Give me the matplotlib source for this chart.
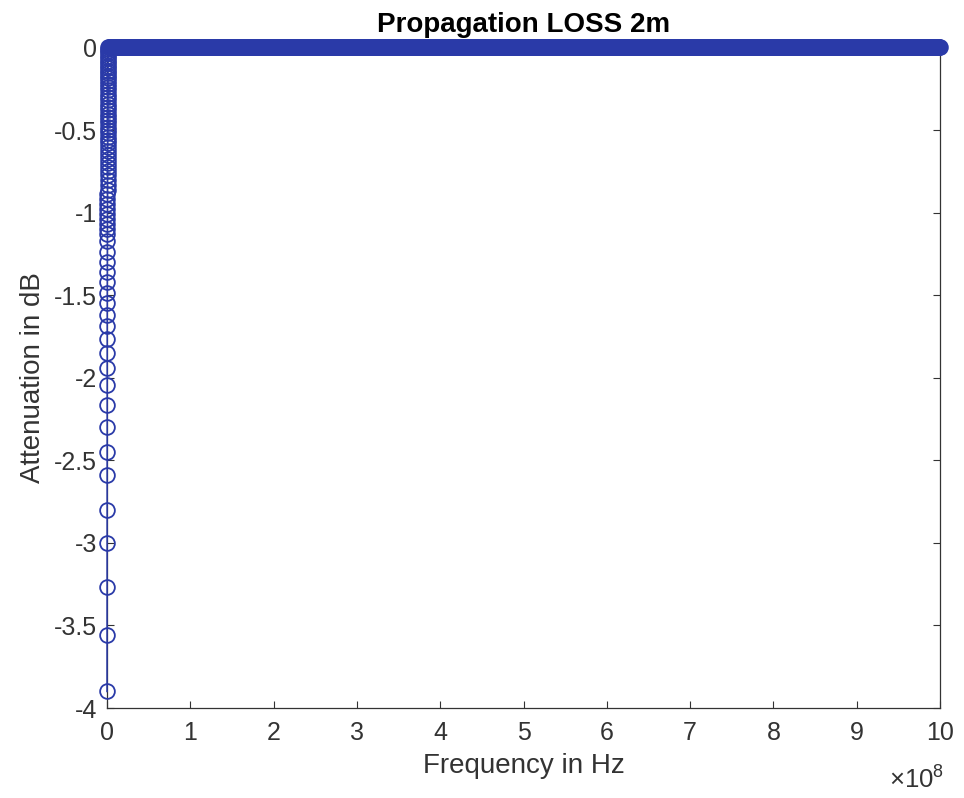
import numpy as np
import matplotlib
matplotlib.use('Agg')
import matplotlib.pyplot as plt
from matplotlib.ticker import FuncFormatter, MultipleLocator

plt.rcParams['font.family'] = ['Liberation Sans', 'DejaVu Sans']
plt.rcParams['axes.unicode_minus'] = False
plt.rcParams['mathtext.fontset'] = 'custom'
plt.rcParams['mathtext.rm'] = 'Liberation Sans'

# ─── Data ───
# low-frequency roll-off (the vertical column of markers at f ~ 0)
att_low_db = [-3.90, -3.56, -3.27, -3.00, -2.80, -2.59, -2.45, -2.30, -2.165, -2.045,
              -1.94, -1.85, -1.765, -1.687, -1.62, -1.548, -1.487, -1.42, -1.36, -1.30,
              -1.24, -1.17, -1.13, -1.10, -1.07, -1.04, -1.01, -0.98, -0.95, -0.92,
              -0.89, -0.86, -0.83, -0.80, -0.775, -0.75, -0.725, -0.70, -0.675, -0.65,
              -0.625, -0.60, -0.58, -0.56, -0.54, -0.52, -0.50, -0.48, -0.46, -0.44,
              -0.42, -0.40, -0.38, -0.36, -0.34, -0.32, -0.30, -0.28, -0.26, -0.24,
              -0.22, -0.20, -0.185, -0.17, -0.155, -0.14, -0.125, -0.11, -0.095, -0.08,
              -0.065, -0.05, -0.035, -0.02, -0.01]
low_step_hz = 2e4
# rest of the sweep sits flat at 0 dB
flat_level_db = 0.0
f_stop_hz = 1e9
n_flat = 1200

freq_low = np.arange(len(att_low_db)) * low_step_hz
freq_flat = np.linspace(freq_low[-1] + low_step_hz, f_stop_hz, n_flat)
freq_hz = np.concatenate([freq_low, freq_flat])
att_db = np.concatenate([att_low_db, np.full(n_flat, flat_level_db)])

BLUE = '#2a3aa8'
GRAY = '#333333'

fig = plt.figure(figsize=(9.64, 7.98), dpi=100)
ax = fig.add_axes([107/964, 1 - 708/798, 833/964, 660.5/798])

ax.plot(freq_hz, att_db, '-o', color=BLUE, lw=1.1, markersize=10.6,
        markerfacecolor='none', markeredgecolor=BLUE, markeredgewidth=1.3,
        clip_on=False, zorder=3)

ax.set_xlim(0, 1e9)
ax.set_ylim(-4, 0)
ax.xaxis.set_major_locator(MultipleLocator(1e8))
ax.xaxis.set_major_formatter(FuncFormatter(lambda v, p: f'{v / 1e8:g}'))
ax.yaxis.set_major_locator(MultipleLocator(0.5))
ax.yaxis.set_major_formatter(FuncFormatter(lambda v, p: f'{v:g}'))

ax.tick_params(direction='in', length=5, width=0.8, color=GRAY, labelcolor=GRAY,
               labelsize=18, top=True, right=True)
ax.tick_params(axis='x', pad=9)
ax.tick_params(axis='y', pad=7)
for s in ax.spines.values():
    s.set_color(GRAY)
    s.set_linewidth(0.9)

ax.set_title('Propagation LOSS 2m', fontsize=20, fontweight='bold', pad=11, color='black')
ax.set_xlabel('Frequency in Hz', fontsize=20, color=GRAY, labelpad=6)
ax.set_ylabel('Attenuation in dB', fontsize=20, color=GRAY, labelpad=6)

ax.text(1.005, -0.088, r'$\times\mathregular{10^{8}}$', transform=ax.transAxes,
        ha='right', va='top', fontsize=18.5, color=GRAY)

fig.savefig('out.png', dpi=100, facecolor='white')
